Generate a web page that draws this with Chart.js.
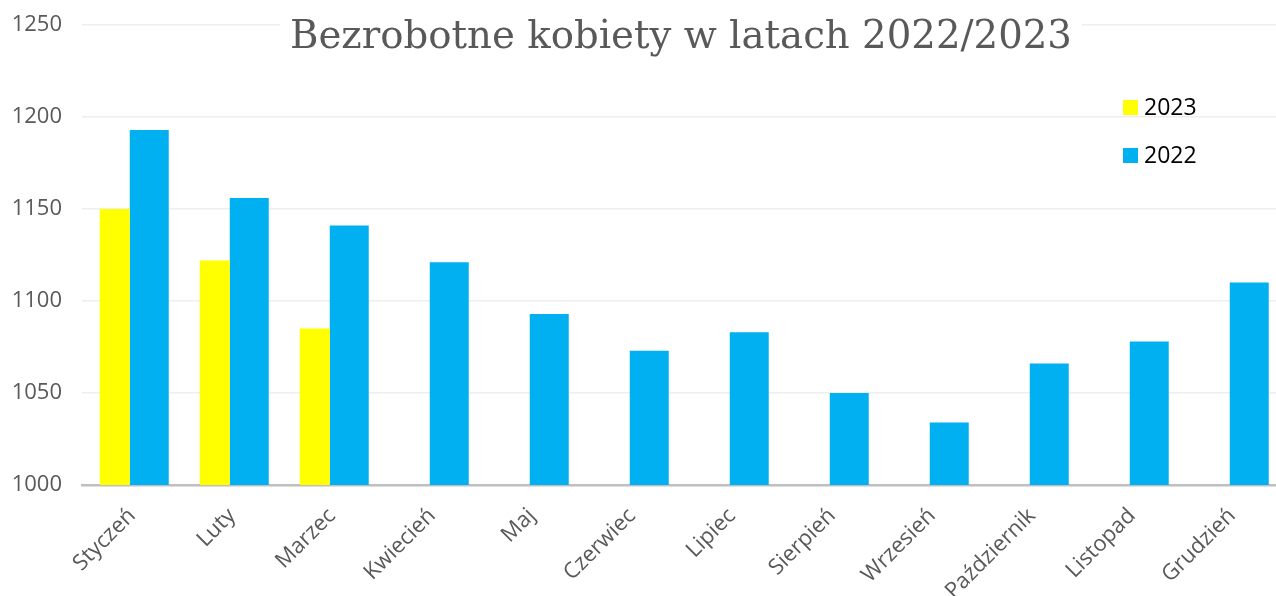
<!DOCTYPE html>
<html>
<head>
<meta charset="utf-8">
<script src="https://cdn.jsdelivr.net/npm/chart.js@4.4.0/dist/chart.umd.min.js"></script>
<style>
  html, body { margin: 0; padding: 0; background: #fff; overflow: hidden; }
  #wrap { position: relative; width: 1282px; height: 596px; }
</style>
</head>
<body>
<div id="wrap"><canvas id="chart"></canvas></div>
<script>
// --- Data ---
const months = ['Styczeń', 'Luty', 'Marzec', 'Kwiecień', 'Maj', 'Czerwiec',
    'Lipiec', 'Sierpień', 'Wrzesień', 'Październik', 'Listopad', 'Grudzień'];
const values2023 = [1150, 1122, 1085, null, null, null, null, null, null, null, null, null];
const values2022 = [1193, 1156, 1141, 1121, 1093, 1073, 1083, 1050, 1034, 1066, 1078, 1110];
const yTicks = [1000, 1050, 1100, 1150, 1200, 1250];
const chartTitle = 'Bezrobotne kobiety w latach 2022/2023';

// --- Styles ---
const yellow = '#FFFF00';
const blue = '#00B0F0';
const axisTextColor = '#595959';
const titleWidth = 782; // width of the title in the reference

// title drawn over the plot, with a white box behind it (like Excel)
const titlePlugin = {
    id: 'overlayTitle',
    afterDraw(chart) {
        const c = chart.ctx;
        c.save();
        c.font = '40px "DejaVu Serif"';
        const size = Math.min(42, 40 * titleWidth / c.measureText(chartTitle).width);
        c.font = size.toFixed(1) + 'px "DejaVu Serif"';
        const w = c.measureText(chartTitle).width;
        const cx = 681;
        c.fillStyle = '#fff';
        c.fillRect(cx - w / 2 - 10, 0, w + 20, 62);
        c.fillStyle = axisTextColor;
        c.textAlign = 'center';
        c.textBaseline = 'alphabetic';
        c.fillText(chartTitle, cx, 48);
        c.restore();
    }
};

// legend placed inside the plot area, top right, stacked
const legendPlugin = {
    id: 'insideLegend',
    afterDraw(chart) {
        const c = chart.ctx;
        c.save();
        c.font = '23px "Open Sans"';
        c.textBaseline = 'middle';
        c.textAlign = 'left';
        const items = [chart.data.datasets[0], chart.data.datasets[1]];
        items.forEach((ds, i) => {
            const y = 100 + i * 48;
            c.fillStyle = ds.backgroundColor;
            c.fillRect(1123, y, 15, 15);
            c.fillStyle = '#000';
            c.fillText(ds.label, 1144, y + 8);
        });
        c.restore();
    }
};

const chart = new Chart(document.getElementById('chart'), {
    type: 'bar',
    data: {
        labels: months,
        datasets: [
            {
                label: '2023',
                data: values2023,
                backgroundColor: yellow,
                barPercentage: 0.87,
                categoryPercentage: 0.69
            },
            {
                label: '2022',
                data: values2022,
                backgroundColor: blue,
                barPercentage: 1.13,
                categoryPercentage: 0.69
            }
        ]
    },
    options: {
        responsive: true,
        maintainAspectRatio: false,
        animation: false,
        layout: { padding: { top: 25, left: 0, right: 0, bottom: 0 } },
        plugins: {
            legend: { display: false },
            title: { display: false },
            tooltip: { enabled: false }
        },
        scales: {
            x: {
                grid: { display: false, drawTicks: false },
                border: { display: true, color: '#BFBFBF', width: 2.5 },
                ticks: {
                    color: axisTextColor,
                    font: { family: 'Open Sans', size: 22 },
                    minRotation: 45,
                    maxRotation: 45,
                    padding: 18,
                    autoSkip: false
                },
                afterFit(s) { s.height = 111; }
            },
            y: {
                min: yTicks[0],
                max: yTicks[yTicks.length - 1],
                afterBuildTicks(s) { s.ticks = yTicks.map(v => ({ value: v })); },
                grid: { color: '#EEEEEE', lineWidth: 1.5, drawTicks: false },
                border: { display: false },
                ticks: {
                    color: axisTextColor,
                    font: { family: 'Open Sans', size: 22 },
                    padding: 20,
                    callback: v => String(v)
                },
                afterFit(s) {
                    s.width = 82;
                    s.paddingTop = 0;
                }
            }
        }
    },
    plugins: [titlePlugin, legendPlugin]
});
</script>
</body>
</html>
